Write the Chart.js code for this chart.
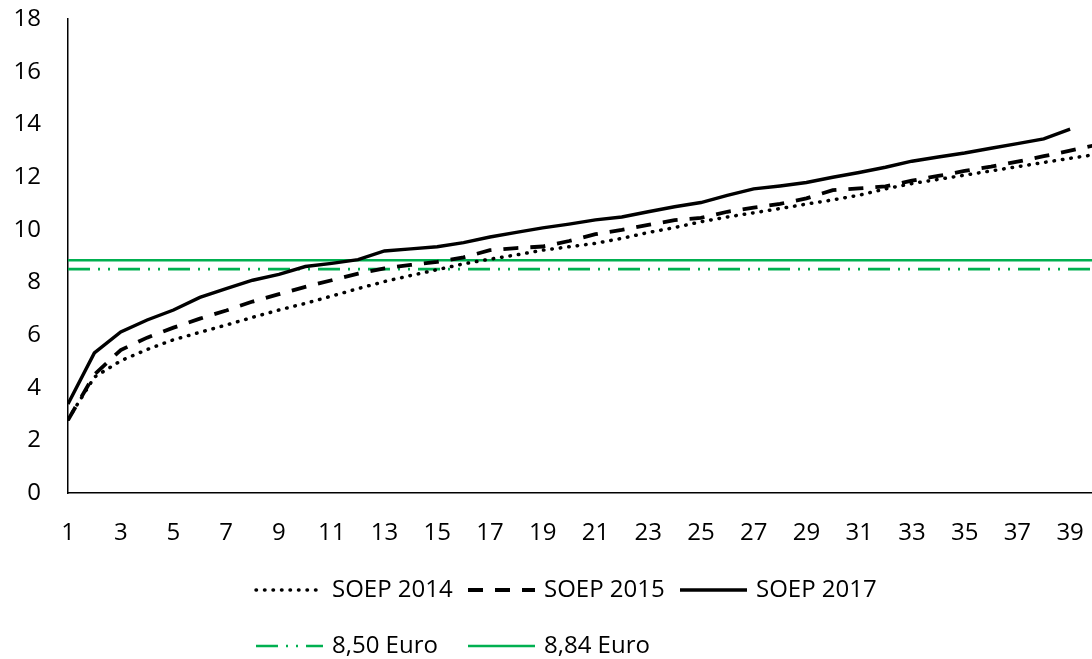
<!DOCTYPE html>
<html>
<head>
<meta charset="utf-8">
<title>SOEP Stundenlöhne</title>
<script src="https://cdn.jsdelivr.net/npm/chart.js@4.4.1/dist/chart.umd.min.js"></script>
<style>
  html, body { margin: 0; padding: 0; background: #fff; }
  #wrap { width: 1092px; height: 659px; }
</style>
</head>
<body>
<div id="wrap"><canvas id="wage-chart" width="1092" height="659"></canvas></div>
<script>
// Data
var percentiles = [1, 2, 3, 4, 5, 6, 7, 8, 9, 10, 11, 12, 13, 14, 15, 16, 17, 18, 19, 20,
    21, 22, 23, 24, 25, 26, 27, 28, 29, 30, 31, 32, 33, 34, 35, 36, 37, 38, 39, 40];
var xTicks = [1, 3, 5, 7, 9, 11, 13, 15, 17, 19, 21, 23, 25, 27, 29, 31, 33, 35, 37, 39];
var seriesLabels = ["SOEP 2014", "SOEP 2015", "SOEP 2017"];
var soep2014 = [2.80, 4.40, 5.02, 5.45, 5.82, 6.10, 6.38, 6.67, 6.95, 7.20,
    7.48, 7.76, 8.03, 8.26, 8.48, 8.70, 8.88, 9.04, 9.22, 9.35,
    9.48, 9.67, 9.89, 10.08, 10.30, 10.48, 10.64, 10.80, 10.97, 11.13,
    11.31, 11.55, 11.75, 11.91, 12.07, 12.23, 12.39, 12.55, 12.71, 12.86];
var soep2015 = [2.77, 4.50, 5.43, 5.90, 6.28, 6.62, 6.93, 7.27, 7.55, 7.83,
    8.08, 8.33, 8.53, 8.66, 8.78, 8.95, 9.22, 9.30, 9.36, 9.57,
    9.83, 9.99, 10.18, 10.36, 10.45, 10.68, 10.84, 10.98, 11.19, 11.50,
    11.57, 11.64, 11.86, 12.04, 12.23, 12.39, 12.58, 12.79, 13.00, 13.22];
var soep2017 = [3.38, 5.32, 6.12, 6.57, 6.95, 7.43, 7.76, 8.08, 8.30, 8.60,
    8.72, 8.86, 9.19, 9.27, 9.35, 9.51, 9.72, 9.90, 10.07, 10.21,
    10.37, 10.48, 10.68, 10.87, 11.03, 11.30, 11.55, 11.66, 11.79, 11.99,
    12.17, 12.37, 12.60, 12.76, 12.91, 13.09, 13.27, 13.45, 13.82];
var minWageLabels = ["8,50 Euro", "8,84 Euro"];
var minWages = [8.50, 8.84];

function toPoints(values) {
    return values.map(function (v, i) { return { x: percentiles[i], y: v }; });
}
function flatLine(value) {
    return [{ x: percentiles[0], y: value }, { x: percentiles[percentiles.length - 1], y: value }];
}

var green = "#00b050";

// legend drawn in a fixed grid (3 columns, rows left aligned)
var gridLegend = {
    id: "gridLegend",
    afterDraw: function (chart, args, opts) {
        var ctx = chart.ctx;
        ctx.save();
        ctx.font = opts.font;
        ctx.fillStyle = "#000";
        ctx.textBaseline = "middle";
        ctx.textAlign = "left";
        chart.data.datasets.forEach(function (ds, i) {
            var row = Math.floor(i / opts.columns);
            var col = i % opts.columns;
            var x = opts.left + col * opts.colWidth;
            var y = opts.top + row * opts.rowHeight;
            ctx.beginPath();
            ctx.strokeStyle = ds.borderColor;
            ctx.lineWidth = ds.borderWidth;
            ctx.lineCap = ds.borderCapStyle || "butt";
            ctx.setLineDash(ds.borderDash || []);
            ctx.moveTo(x, y);
            ctx.lineTo(x + opts.sampleWidth, y);
            ctx.stroke();
            ctx.setLineDash([]);
            ctx.fillText(ds.label, x + opts.sampleWidth + opts.textGap, y);
        });
        ctx.restore();
    }
};

Chart.defaults.font.family = "'Open Sans', sans-serif";
Chart.defaults.font.size = 24;
Chart.defaults.color = "#000";

var wageChart = new Chart(document.querySelector("#wage-chart"), {
    type: "line",
    data: {
        datasets: [{
            label: seriesLabels[0],
            data: toPoints(soep2014),
            borderColor: "#000",
            borderWidth: 3.5,
            borderDash: [0.5, 8],
            borderCapStyle: "round"
        }, {
            label: seriesLabels[1],
            data: toPoints(soep2015),
            borderColor: "#000",
            borderWidth: 3.8,
            borderDash: [15, 12]
        }, {
            label: seriesLabels[2],
            data: toPoints(soep2017),
            borderColor: "#000",
            borderWidth: 3.4
        }, {
            label: minWageLabels[0],
            data: flatLine(minWages[0]),
            borderColor: green,
            borderWidth: 2.6,
            borderDash: [22, 8, 2, 8, 2, 8]
        }, {
            label: minWageLabels[1],
            data: flatLine(minWages[1]),
            borderColor: green,
            borderWidth: 2.6
        }]
    },
    options: {
        responsive: false,
        animation: false,
        devicePixelRatio: 1,
        layout: { padding: { top: 19, left: 0, right: 0, bottom: 116 } },
        elements: {
            point: { radius: 0, hoverRadius: 0 },
            line: { tension: 0, fill: false }
        },
        scales: {
            x: {
                type: "linear",
                min: 1,
                max: 39.83,
                afterBuildTicks: function (axis) {
                    axis.ticks = xTicks.map(function (v) { return { value: v }; });
                },
                afterFit: function (axis) { axis.height = 50; },
                ticks: { autoSkip: false, maxRotation: 0, padding: 0, color: "#000" },
                grid: { display: true, drawOnChartArea: false, drawTicks: true, tickLength: 26, color: "rgba(0,0,0,0)" },
                border: { display: true, color: "#000", width: 1.5 }
            },
            y: {
                min: 0,
                max: 18,
                afterFit: function (axis) { axis.width = 68; },
                ticks: { stepSize: 2, padding: 0, color: "#000" },
                grid: { display: true, drawOnChartArea: false, drawTicks: true, tickLength: 27, color: "rgba(0,0,0,0)" },
                border: { display: true, color: "#000", width: 1.5 }
            }
        },
        plugins: {
            legend: { display: false },
            tooltip: { enabled: false },
            gridLegend: {
                font: "24px 'Open Sans', sans-serif",
                left: 256,
                top: 590,
                rowHeight: 56,
                colWidth: 212,
                columns: 3,
                sampleWidth: 67,
                textGap: 9
            }
        }
    },
    plugins: [gridLegend]
});
</script>
</body>
</html>
